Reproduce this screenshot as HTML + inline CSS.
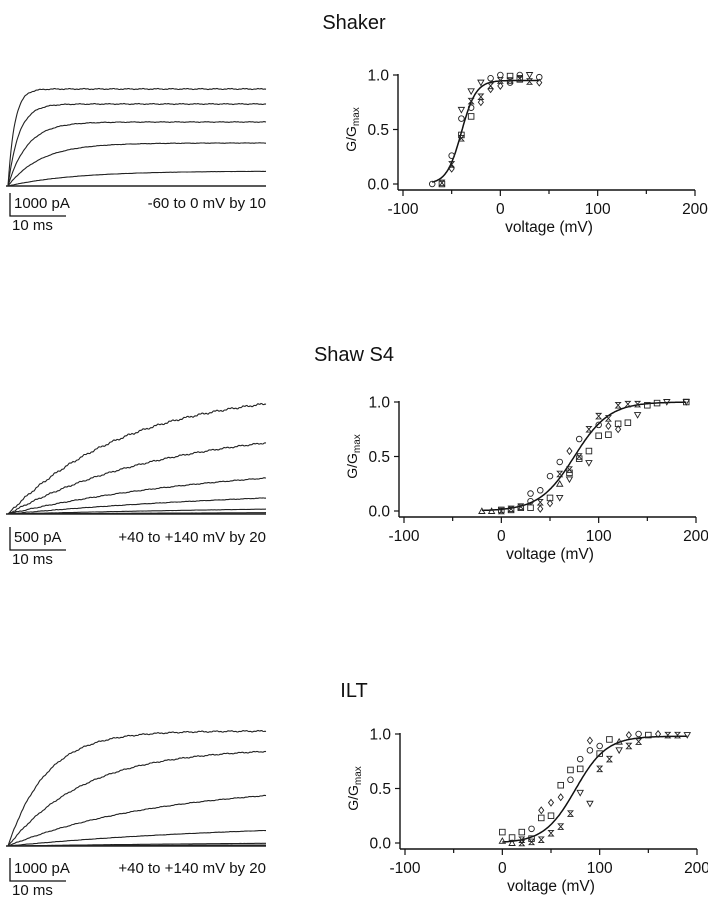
<!DOCTYPE html>
<html><head><meta charset="utf-8"><style>
body{margin:0;background:#fff;width:708px;height:899px;overflow:hidden;font-family:"Liberation Sans",Arial,sans-serif}
svg text{font-family:"Liberation Sans",Arial,sans-serif;fill:#111}
</style></head><body>
<svg id="fig" width="708" height="899" viewBox="0 0 708 899" xmlns="http://www.w3.org/2000/svg">
<text x="354" y="29" font-size="20" text-anchor="middle">Shaker</text>
<text x="354" y="361" font-size="20" text-anchor="middle">Shaw S4</text>
<text x="354" y="697" font-size="20" text-anchor="middle">ILT</text>
</svg>
<script>
// ---- data ----
const xTicks=[-100,0,100,200];
const xTickLabels=["-100","0","100","200"];
const yTicks=[0,0.5,1];
const yTickLabels=["0.0","0.5","1.0"];
// Shaker G-V points: [voltage, G/Gmax, marker]
const shakerV=[-70,-60,-60,-50,-50,-50,-40,-40,-40,-40,-30,-30,-30,-30,-20,-20,-20,-10,-10,-10,0,0,0,10,10,10,20,20,20,30,30,40,40];
const shakerG=[0,0,0.01,0.26,0.18,0.14,0.68,0.60,0.45,0.42,0.85,0.76,0.62,0.70,0.93,0.80,0.75,0.97,0.90,0.87,1.0,0.95,0.90,0.99,0.95,0.93,1.0,0.97,0.96,1.0,0.94,0.98,0.93];
const shakerM=["o","s","x","o","x","d","v","o","s","x","v","x","s","o","v","x","d","o","x","d","o","x","d","s","x","o","o","x","s","v","x","o","d"];
const shakerFit=[-40,7.5,0.95];
// Shaw S4
const shawV=[-20,-10,0,0,10,10,20,20,30,30,30,40,40,40,50,50,50,60,60,60,60,70,70,70,70,80,80,80,90,90,90,100,100,100,110,110,110,120,120,120,130,130,140,140,150,160,170,190,190];
const shawG=[0,0,0.01,0,0.02,0.01,0.04,0.03,0.16,0.09,0.03,0.19,0.08,0.02,0.32,0.12,0.07,0.45,0.34,0.25,0.12,0.55,0.38,0.35,0.29,0.66,0.50,0.48,0.75,0.55,0.44,0.87,0.69,0.79,0.85,0.70,0.78,0.97,0.80,0.75,0.98,0.81,0.98,0.88,0.97,0.99,1.0,1.0,1.0];
const shawM=["t","t","s","x","x","s","x","s","o","o","s","o","x","d","o","s","d","o","x","t","v","d","x","s","v","o","x","s","x","s","v","x","s","o","x","s","d","x","s","d","x","s","x","v","s","s","v","s","v"];
const shawFit=[75,18,1.0];
// ILT
const iltV=[0,0,10,10,20,20,20,30,30,30,40,40,40,50,50,50,60,60,60,70,70,70,80,80,80,90,90,90,100,100,100,110,110,120,120,130,130,140,140,150,160,170,180,190];
const iltG=[0.10,0.02,0.05,0,0.10,0.03,0,0.13,0.04,0.01,0.30,0.23,0.03,0.37,0.25,0.09,0.53,0.42,0.15,0.67,0.58,0.27,0.77,0.68,0.46,0.94,0.85,0.36,0.82,0.89,0.68,0.95,0.77,0.93,0.85,0.99,0.89,1.0,0.93,0.99,1.0,0.99,0.99,0.99];
const iltM=["s","t","s","t","s","x","x","o","s","x","d","s","x","d","s","x","s","d","x","s","o","x","o","s","v","d","o","v","s","o","x","s","x","t","v","d","x","o","x","s","d","x","x","v"];
const iltFit=[75,16,0.98];
// current traces: steady amplitude (px above baseline) and time constant (ms)
const shakerAmp=[97,82,64,43,15];
const shakerTau=[1.2,2.0,3.5,6.0,12];
const shawAmp=[125,90,52,28,10,3];
const shawTau=[22,30,40,55,70,80];
const iltAmp=[115,98,62,24,5,2];
const iltTau=[7,14,28,45,60,70];

const svg=document.getElementById('fig');
const NS="http://www.w3.org/2000/svg";
function mk(tag,attrs,parent){const e=document.createElementNS(NS,tag);for(const k in attrs)e.setAttribute(k,attrs[k]);(parent||svg).appendChild(e);return e;}

function chart(name,ax,V,G,M,fit){
  const sx=v=>ax.x0+(v+100)*(ax.x1-ax.x0)/300;
  const sy=g=>ax.y0+(ax.y1-ax.y0)*g;
  const g=mk('g',{},svg);
  
  
  const xa=mk('line',{x1:ax.ax,x2:ax.x1,y1:ax.ay,y2:ax.ay,stroke:'#111','stroke-width':1.4},g);
  
  const ya=mk('line',{x1:ax.ax,x2:ax.ax,y1:ax.ay,y2:sy(1)-1,stroke:'#111','stroke-width':1.4},g);
  
  for(let v=-100;v<=200;v+=50){const big=v%100===0;mk('line',{x1:sx(v),x2:sx(v),y1:ax.ay,y2:ax.ay+(big?6:4),stroke:'#111','stroke-width':1.2},g);}
  xTicks.forEach((v,i)=>{const t=mk('text',{x:sx(v),y:ax.ay+24,'font-size':15.5,'text-anchor':'middle'},g);t.textContent=xTickLabels[i];
    });
  yTicks.forEach((v,i)=>{mk('line',{x1:ax.ax-5,x2:ax.ax,y1:sy(v),y2:sy(v),stroke:'#111','stroke-width':1.2},g);
    const t=mk('text',{x:ax.ax-9,y:sy(v)+5.5,'font-size':15.5,'text-anchor':'end'},g);t.textContent=yTickLabels[i];
    });
  const xl=mk('text',{x:sx(50),y:ax.ay+42,'font-size':15.5,'text-anchor':'middle'},g);xl.textContent='voltage (mV)';
  
  const yc=(sy(0)+sy(1))/2;
  const yl=mk('text',{x:0,y:0,'font-size':14,'text-anchor':'middle',transform:`translate(${ax.ax-42},${yc}) rotate(-90)`},g);
  yl.innerHTML='G/G<tspan font-size="10" dy="3">max</tspan>';
  
  let d='';for(let v=V[0];v<=V[V.length-1];v+=1){const gg=fit[2]/(1+Math.exp(-(v-fit[0])/fit[1]));d+=(d?'L':'M')+sx(v).toFixed(1)+','+sy(gg).toFixed(1);}
  const fl=mk('path',{d:d,fill:'none',stroke:'#111','stroke-width':1.5},g);
  
  V.forEach((v,i)=>{const x=sx(v),y=sy(G[i]),m=M[i];let e;const st={fill:'none',stroke:'#222','stroke-width':0.9};
    if(m==='o')e=mk('circle',Object.assign({cx:x,cy:y,r:2.8},st),g);
    else if(m==='s')e=mk('rect',Object.assign({x:x-2.8,y:y-2.8,width:5.6,height:5.6},st),g);
    else if(m==='d')e=mk('path',Object.assign({d:`M${x},${y-3.3}L${x+2.5},${y}L${x},${y+3.3}L${x-2.5},${y}Z`},st),g);
    else if(m==='v')e=mk('path',Object.assign({d:`M${x-3},${y-2.5}L${x+3},${y-2.5}L${x},${y+2.8}Z`},st),g);
    else if(m==='t')e=mk('path',Object.assign({d:`M${x-3},${y+2.5}L${x+3},${y+2.5}L${x},${y-2.8}Z`},st),g);
    else e=mk('path',Object.assign({d:`M${x-2.5},${y-2.8}L${x+2.5},${y-2.8}L${x-2.5},${y+2.8}L${x+2.5},${y+2.8}Z`},st),g);
    });
}
chart('shaker-gv-plot',{x0:403,x1:695,y0:184,y1:75,ax:398,ay:190},shakerV,shakerG,shakerM,shakerFit);
chart('shaw-gv-plot',{x0:404,x1:696,y0:511,y1:402,ax:399,ay:517},shawV,shawG,shawM,shawFit);
chart('ilt-gv-plot',{x0:405,x1:697,y0:843,y1:734,ax:400,ay:849},iltV,iltG,iltM,iltFit);

function traces(name,base,amp,tau,noise,sbTop,label,rangeLabel){
  const g=mk('g',{},svg);
  
  
  const x0=8,x1=266,msPx=5.5;
  amp.forEach((a,k)=>{let d='';for(let x=x0;x<=x1;x+=1){const t=(x-x0)/msPx;const w=noise*(Math.sin(x*1.7+k)*0.4+Math.sin(x*0.43+k*2)*0.6)*(a/100);
      const y=base-a*(1-Math.exp(-t/tau[k]))+(x>x0+3?w:0);d+=(d?'L':'M')+x+','+y.toFixed(1);}
    const p=mk('path',{d:d,fill:'none',stroke:'#222','stroke-width':1.1},g);
    });
  mk('line',{x1:x0-2,x2:x1,y1:base,y2:base,stroke:'#222','stroke-width':1.4},g);
  const sb=mk('path',{d:`M10,${sbTop}L10,${sbTop+23}L66,${sbTop+23}`,fill:'none',stroke:'#111','stroke-width':1.3},g);
  
  const t1=mk('text',{x:14,y:sbTop+15,'font-size':15},g);t1.textContent=label;
  
  const t2=mk('text',{x:12,y:sbTop+37,'font-size':15},g);t2.textContent='10 ms';
  
  const t3=mk('text',{x:266,y:sbTop+15,'font-size':15,'text-anchor':'end'},g);t3.textContent=rangeLabel;
  
}
traces('shaker-traces',186,shakerAmp,shakerTau,0.6,193,'1000 pA','-60 to 0 mV by 10');
traces('shaw-traces',514,shawAmp,shawTau,1.0,527,'500 pA','+40 to +140 mV by 20');
traces('ilt-traces',846,iltAmp,iltTau,0.7,858,'1000 pA','+40 to +140 mV by 20');
</script>
</body></html>
